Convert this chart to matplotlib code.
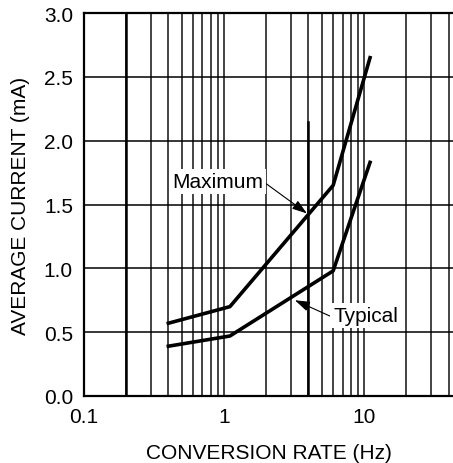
import matplotlib
matplotlib.use("Agg")
import matplotlib.pyplot as plt
from matplotlib.ticker import FixedLocator, NullFormatter

plt.rcParams['font.family'] = ['Liberation Sans', 'DejaVu Sans']

# data
rate = [0.4, 1.1, 6.0, 11.0]
maximum = [0.57, 0.70, 1.65, 2.65]
typical = [0.39, 0.47, 0.98, 1.83]

x_ticks = [0.1, 1, 10]
x_tick_labels = ['0.1', '1', '10']
y_ticks = [0.0, 0.5, 1.0, 1.5, 2.0, 2.5, 3.0]
minor_x = [0.2, 0.3, 0.4, 0.5, 0.6, 0.7, 0.8, 0.9,
           2, 3, 4, 5, 6, 7, 8, 9, 20, 30, 40]

FS = 15

fig = plt.figure(figsize=(4.53, 4.64), dpi=100)
ax = fig.add_axes([84 / 453, 67 / 464, 1 - 84 / 453, 383 / 464])

ax.set_xscale('log')
ax.set_xlim(0.1, 43)
ax.set_ylim(0, 3.0)

# grid
for xv in minor_x + x_ticks:
    ax.axvline(xv, color='#111111', lw=1.1, zorder=1)
for yv in y_ticks[1:-1]:
    ax.axhline(yv, color='black', lw=1.1, zorder=1)
ax.axvline(0.2, color='black', lw=1.8, zorder=1)
ax.plot([4, 4], [0, 2.15], color='black', lw=1.8, zorder=1)

ax.plot(rate, maximum, color='black', lw=2.6, zorder=3)
ax.plot(rate, typical, color='black', lw=2.6, zorder=3)

ax.annotate('Maximum', xy=(3.9, 1.43), xytext=(0.9, 1.68),
            fontsize=FS, ha='center', va='center', zorder=4,
            bbox=dict(boxstyle='square,pad=0.15', fc='white', ec='none'),
            arrowprops=dict(arrowstyle='-|>,head_length=0.6,head_width=0.2',
                            color='black', lw=0.8, relpos=(1.0, 0.5),
                            shrinkA=0, shrinkB=0))
ax.annotate('Typical', xy=(3.2, 0.75), xytext=(10.2, 0.63),
            fontsize=FS, ha='center', va='center', zorder=4,
            bbox=dict(boxstyle='square,pad=0.15', fc='white', ec='none'),
            arrowprops=dict(arrowstyle='-|>,head_length=0.6,head_width=0.2',
                            color='black', lw=0.8, relpos=(0.0, 0.4),
                            shrinkA=0, shrinkB=0))

ax.xaxis.set_major_locator(FixedLocator(x_ticks))
ax.xaxis.set_minor_locator(FixedLocator(minor_x))
ax.xaxis.set_minor_formatter(NullFormatter())
ax.set_xticklabels(x_tick_labels)
ax.set_yticks(y_ticks)
ax.set_yticklabels([f'{v:.1f}' for v in y_ticks])
ax.tick_params(which='both', length=0, labelsize=FS)
ax.tick_params(axis='y', pad=8)
ax.tick_params(axis='x', pad=8)

for side in ['left', 'bottom', 'top']:
    ax.spines[side].set_linewidth(1.6)
ax.spines['right'].set_visible(False)

ax.set_xlabel('CONVERSION RATE (Hz)', fontsize=FS, labelpad=12)
ax.set_ylabel('AVERAGE CURRENT (mA)', fontsize=FS, labelpad=10)

fig.savefig('out.png', dpi=100)
